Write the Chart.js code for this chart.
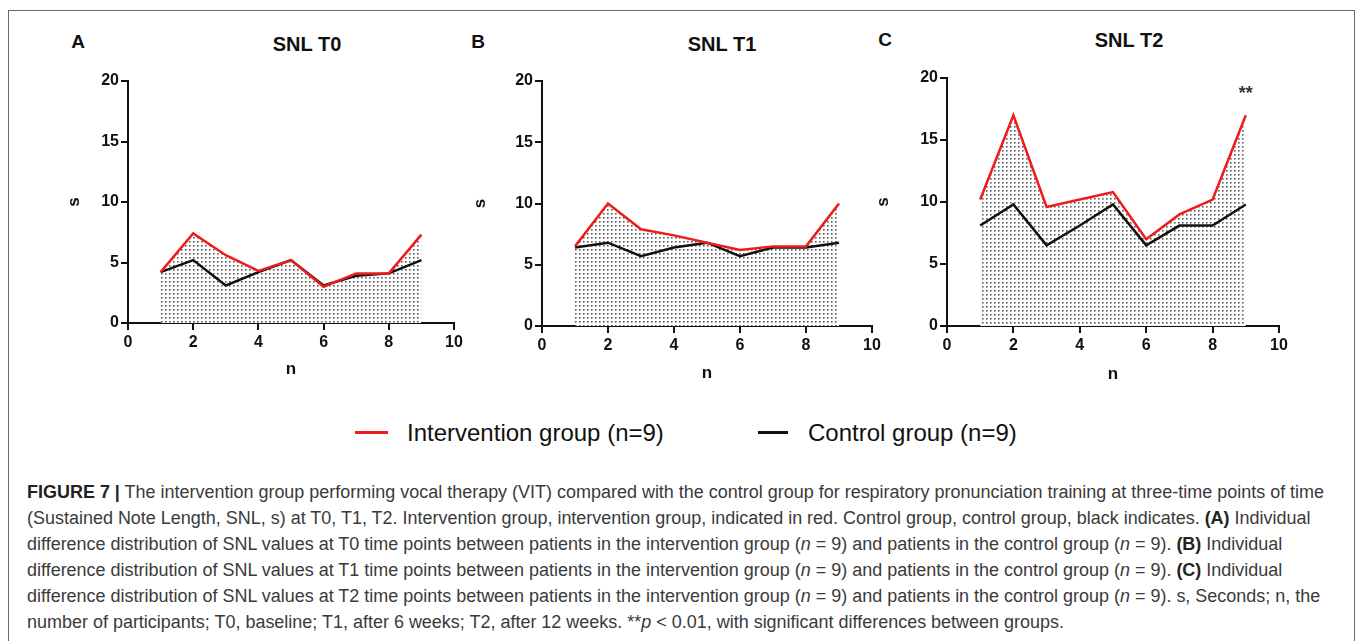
<!DOCTYPE html>
<html>
<head>
<meta charset="utf-8">
<script src="https://cdn.jsdelivr.net/npm/chart.js@4.4.1/dist/chart.umd.min.js"></script>
<style>
  body{ margin:0; width:1357px; height:641px; background:#fff; position:relative; overflow:hidden;
        font-family:"Liberation Sans", Arial, sans-serif; }
  .frame{ position:absolute; left:8px; top:10px; width:1347px; height:700px; border:1px solid #666; box-sizing:border-box; }
  canvas{ position:absolute; }
  .lbl{ position:absolute; font-weight:bold; color:#111; transform:translate(-50%,-50%); white-space:nowrap; }
  .leg-line{ position:absolute; height:3px; }
  .leg-text{ position:absolute; font-size:24px; color:#111; transform:translateY(-50%); white-space:nowrap; }
  .caption{ position:absolute; left:27px; top:479px; font-size:17px; line-height:26px;
            color:#3a3a3a; white-space:nowrap; }
  .caption div{ height:26px; }
  .caption b{ color:#222; }
</style>
</head>
<body>
<div class="frame"></div>

<div class="lbl" style="left:78px;top:42px;font-size:19px">A</div>
<div class="lbl" style="left:307px;top:44px;font-size:20px">SNL T0</div>
<div class="lbl" style="left:478px;top:42px;font-size:19px">B</div>
<div class="lbl" style="left:722px;top:44px;font-size:20px">SNL T1</div>
<div class="lbl" style="left:885px;top:40px;font-size:19px">C</div>
<div class="lbl" style="left:1129px;top:40px;font-size:20px">SNL T2</div>

<canvas id="chartA" width="420" height="324" style="left:60px;top:60px"></canvas>
<canvas id="chartB" width="432" height="328" style="left:466px;top:60px"></canvas>
<canvas id="chartC" width="437" height="332" style="left:869px;top:57px"></canvas>

<div class="leg-line" style="left:355px;top:431px;width:33px;background:#ee1c1c"></div>
<div class="leg-text" style="left:407px;top:433px">Intervention group (n=9)</div>
<div class="leg-line" style="left:758px;top:431px;width:30px;background:#111"></div>
<div class="leg-text" style="left:808px;top:433px">Control group (n=9)</div>

<div class="caption" id="caption">
<div id="capLine1"><b>FIGURE 7 |</b> The intervention group performing vocal therapy (VIT) compared with the control group for respiratory pronunciation training at three-time points of time</div>
<div>(Sustained Note Length, SNL, s) at T0, T1, T2. Intervention group, intervention group, indicated in red. Control group, control group, black indicates. <b>(A)</b> Individual</div>
<div>difference distribution of SNL values at T0 time points between patients in the intervention group (<i>n</i> = 9) and patients in the control group (<i>n</i> = 9). <b>(B)</b> Individual</div>
<div>difference distribution of SNL values at T1 time points between patients in the intervention group (<i>n</i> = 9) and patients in the control group (<i>n</i> = 9). <b>(C)</b> Individual</div>
<div>difference distribution of SNL values at T2 time points between patients in the intervention group (<i>n</i> = 9) and patients in the control group (<i>n</i> = 9). s, Seconds; n, the</div>
<div>number of participants; T0, baseline; T1, after 6 weeks; T2, after 12 weeks. **<i>p</i> &lt; 0.01, with significant differences between groups.</div>
</div>

<script>
// participants 1..9, sustained note length (s)
const participants = [1, 2, 3, 4, 5, 6, 7, 8, 9];

const t0Intervention = [4.2, 7.4, 5.6, 4.3, 5.2, 3.0, 4.1, 4.1, 7.3];
const t0Control      = [4.2, 5.2, 3.1, 4.2, 5.2, 3.1, 3.9, 4.1, 5.2];

const t1Intervention = [6.5, 10.0, 7.9, 7.4, 6.8, 6.2, 6.5, 6.5, 10.0];
const t1Control      = [6.4, 6.8, 5.7, 6.4, 6.8, 5.7, 6.4, 6.4, 6.8];

const t2Intervention = [10.2, 17.0, 9.6, 10.2, 10.8, 7.0, 9.0, 10.2, 17.0];
const t2Control      = [8.1, 9.8, 6.5, 8.1, 9.8, 6.5, 8.1, 8.1, 9.8];

// significance mark in panel C
const t2Sig = [{ x: 9, y: 18.7, text: '**' }];

const xTicks = [0, 2, 4, 6, 8, 10];
const yTicks = [0, 5, 10, 15, 20];

const RED = '#ee1c1c', BLACK = '#111';
const FONT = '"Liberation Sans", Arial, sans-serif';

// caption line 1 runs almost the full box width in the original
(function fitCaption(){
  const l1 = document.getElementById('capLine1');
  const w = l1.getBoundingClientRect().width;
  const el = document.getElementById('caption');
  el.style.fontSize = (17 * 1298 / w).toFixed(2) + 'px';
  l1.style.display = 'block';
})();

function dotPattern(){
  const c = document.createElement('canvas');
  c.width = 4; c.height = 4;
  const g = c.getContext('2d');
  g.fillStyle = '#fff';
  g.fillRect(0, 0, 4, 4);
  g.fillStyle = '#5a5a5a'; g.fillRect(1, 1, 1, 1);
  g.fillStyle = '#9a9a9a'; g.fillRect(2, 1, 1, 1); g.fillRect(1, 2, 1, 1);
  g.fillStyle = '#c8c8c8'; g.fillRect(2, 2, 1, 1);
  return c.getContext('2d').createPattern(c, 'repeat');
}

function pts(ys){ return participants.map((x, i) => ({ x, y: ys[i] })); }

const sigPlugin = {
  id: 'sig',
  afterDatasetsDraw(chart, args, opts){
    if (!opts.marks) return;
    const { ctx, scales: { x, y } } = chart;
    ctx.save();
    ctx.font = 'bold 18px ' + FONT;
    ctx.fillStyle = '#333';
    ctx.textAlign = 'center';
    ctx.textBaseline = 'middle';
    opts.marks.forEach(m => ctx.fillText(m.text, x.getPixelForValue(m.x), y.getPixelForValue(m.y)));
    ctx.restore();
  }
};

function buildPanel(id, inter, ctrl, geo, marks){
  const axisGrid = { drawOnChartArea:false, drawTicks:true, tickLength:7, color:BLACK, lineWidth:2 };
  const tickFont = { family:FONT, size:16, weight:'bold' };
  const titleFont = { family:FONT, size:17, weight:'bold' };
  return new Chart(document.getElementById(id), {
    type:'line',
    data:{
      datasets:[
        { label:'Control group (n=9)', data:pts(ctrl), borderColor:BLACK, borderWidth:2.5,
          pointRadius:0, fill:false, tension:0, order:2 },
        { label:'Intervention group (n=9)', data:pts(inter), borderColor:RED, borderWidth:2.5,
          pointRadius:0, fill:'origin', backgroundColor:dotPattern(), tension:0, order:1 }
      ]
    },
    options:{
      responsive:false,
      animation:false,
      devicePixelRatio:1,
      layout:{ padding:{ top:geo.top, right:geo.right, bottom:0, left:0 } },
      plugins:{
        legend:{ display:false }, tooltip:{ enabled:false },
        filler:{ drawTime:'beforeDatasetsDraw' },
        sig:{ marks }
      },
      scales:{
        x:{
          type:'linear', min:0, max:10, z:1,
          afterBuildTicks: s => { s.ticks = xTicks.map(v => ({ value:v })); },
          afterFit: s => { s.height = geo.xh; },
          grid:axisGrid,
          border:{ display:true, color:BLACK, width:2 },
          ticks:{ font:tickFont, color:BLACK, padding:3, maxRotation:0 },
          title:{ display:true, text:'n', font:titleFont, color:BLACK, padding:{ top:4, bottom:4 } }
        },
        y:{
          type:'linear', min:0, max:20, z:1,
          afterBuildTicks: s => { s.ticks = yTicks.map(v => ({ value:v })); },
          afterFit: s => { s.width = geo.yw; },
          grid:axisGrid,
          border:{ display:true, color:BLACK, width:2 },
          ticks:{ font:tickFont, color:BLACK, padding:2 },
          title:{ display:true, text:'s', font:titleFont, color:BLACK, padding:{ top:4, bottom:4 } }
        }
      }
    },
    plugins:[sigPlugin]
  });
}

buildPanel('chartA', t0Intervention, t0Control, { top:21, right:26, xh:61, yw:68 }, null);
buildPanel('chartB', t1Intervention, t1Control, { top:21, right:26, xh:62, yw:76 }, null);
buildPanel('chartC', t2Intervention, t2Control, { top:21, right:27, xh:63, yw:78 }, t2Sig);
</script>
</body>
</html>
